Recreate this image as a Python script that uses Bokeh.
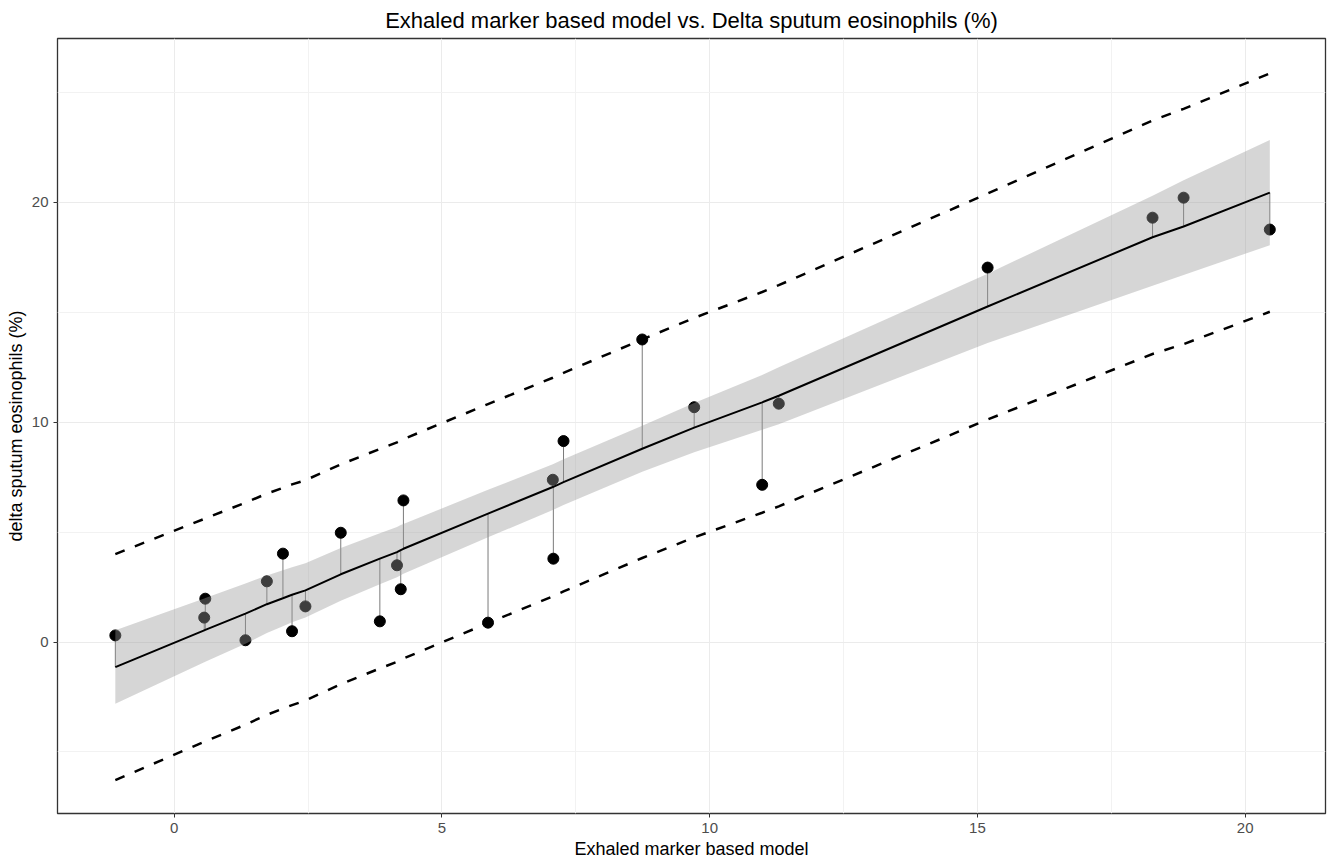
from bokeh.plotting import figure
from bokeh.models import ColumnDataSource, Range1d, FixedTicker
from bokeh.embed import file_html
from bokeh.resources import INLINE

# ---- data (sorted by model value) ----
model_x = [-1.10, 0.56, 0.58, 1.33, 1.73, 2.03, 2.20, 2.45, 3.11, 3.84, 4.16, 4.23, 4.28,
           5.86, 7.07, 7.08, 7.27, 8.74, 9.71, 10.98, 11.29, 15.19, 18.27, 18.85, 20.46]
observed_y = [0.30, 1.11, 1.97, 0.08, 2.76, 4.02, 0.49, 1.62, 4.97, 0.94, 3.49, 2.40, 6.44,
              0.88, 7.38, 3.79, 9.14, 13.76, 10.68, 7.15, 10.84, 17.03, 19.30, 20.21, 18.76]
fitted = [-1.14, 0.53, 0.55, 1.29, 1.72, 1.99, 2.15, 2.35, 3.08, 3.79, 4.09, 4.18, 4.24,
          5.84, 7.05, 7.06, 7.27, 8.79, 9.75, 10.90, 11.20, 15.26, 18.41, 18.90, 20.44]
conf_lower = [-2.81, -0.92, -0.90, -0.08, 0.41, 0.72, 0.90, 1.12, 1.88, 2.63, 2.95, 3.04, 3.11,
              4.76, 6.01, 6.02, 6.23, 7.74, 8.63, 9.65, 9.90, 13.60, 16.20, 16.69, 18.05]
conf_upper = [0.53, 1.98, 2.00, 2.66, 3.03, 3.26, 3.40, 3.58, 4.28, 4.95, 5.23, 5.32, 5.37,
              6.92, 8.09, 8.10, 8.31, 9.84, 10.87, 12.15, 12.50, 16.75, 20.30, 21.00, 22.83]
pred_lower = [-6.28, -4.54, -4.52, -3.76, -3.31, -3.03, -2.87, -2.66, -1.92, -1.20, -0.90, -0.81, -0.75,
              0.86, 2.08, 2.09, 2.30, 3.82, 4.76, 5.88, 6.17, 10.12, 13.10, 13.55, 15.02]
pred_upper = [4.00, 5.60, 5.62, 6.34, 6.75, 7.01, 7.17, 7.36, 8.08, 8.78, 9.08, 9.17, 9.23,
              10.82, 12.02, 12.03, 12.24, 13.76, 14.74, 15.92, 16.23, 20.40, 23.72, 24.25, 25.86]

x_ticks = [0, 5, 10, 15, 20]
y_ticks = [0, 10, 20]

src = ColumnDataSource(dict(x=model_x, y=observed_y, fit=fitted,
                            lo=conf_lower, hi=conf_upper,
                            plo=pred_lower, phi=pred_upper))

FONT = "Liberation Sans"

p = figure(width=1331, height=867, output_backend="svg", toolbar_location=None,
           x_range=Range1d(-2.18, 21.5), y_range=Range1d(-7.8, 27.45),
           min_border_left=57, min_border_right=6, min_border_top=38, min_border_bottom=54,
           title="Exhaled marker based model vs. Delta sputum eosinophils (%)")

p.title.align = "center"
p.title.text_font = FONT
p.title.text_font_size = "22px"
p.title.text_font_style = "normal"
p.title.text_color = "#000000"
p.title.standoff = 11

p.background_fill_color = "white"
p.border_fill_color = "white"
p.outline_line_color = "#333333"
p.outline_line_width = 1.3

p.xaxis.ticker = FixedTicker(ticks=x_ticks, minor_ticks=[-2.5, 2.5, 7.5, 12.5, 17.5])
p.yaxis.ticker = FixedTicker(ticks=y_ticks, minor_ticks=[-5, 5, 15, 25])
for ax in (p.xaxis, p.yaxis):
    ax.axis_line_color = None
    ax.major_tick_line_color = "#333333"
    ax.major_tick_out = 4
    ax.major_tick_in = 0
    ax.minor_tick_out = 0
    ax.minor_tick_in = 0
    ax.major_label_text_font = FONT
    ax.major_label_text_font_size = "15px"
    ax.major_label_text_color = "#4d4d4d"
    ax.axis_label_text_font = FONT
    ax.axis_label_text_font_size = "18px"
    ax.axis_label_text_font_style = "normal"
    ax.axis_label_text_color = "#000000"
    ax.major_label_standoff = 5
    ax.axis_label_standoff = 3

p.xaxis.axis_label = "Exhaled marker based model"
p.yaxis.axis_label = "delta sputum eosinophils (%)"

p.xgrid.grid_line_color = "#ebebeb"
p.ygrid.grid_line_color = "#ebebeb"
p.xgrid.minor_grid_line_color = "#f2f2f2"
p.ygrid.minor_grid_line_color = "#f2f2f2"

# residual segments
p.segment(x0="x", y0="y", x1="x", y1="fit", source=src, line_color="#7a7a7a", line_width=1)
# points
p.scatter(x="x", y="y", source=src, size=11, fill_color="black", line_color="black")
# confidence band drawn over points
p.varea(x="x", y1="lo", y2="hi", source=src, fill_color="#999999", fill_alpha=0.4)
# fitted line
p.line(x="x", y="fit", source=src, line_color="black", line_width=2)
# prediction interval
p.line(x="x", y="plo", source=src, line_color="black", line_width=2.5, line_dash="10 11")
p.line(x="x", y="phi", source=src, line_color="black", line_width=2.5, line_dash="10 11")

open("out.html", "w").write(file_html(p, INLINE))
